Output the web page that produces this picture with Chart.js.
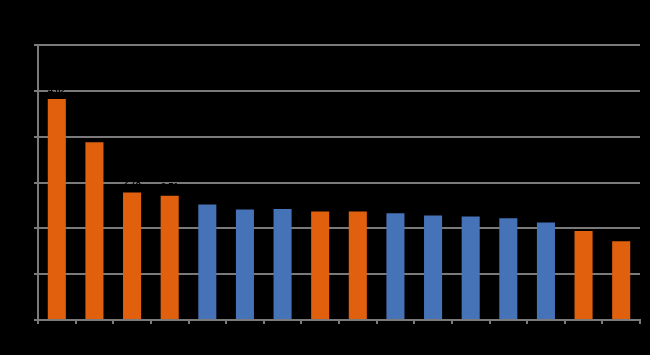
<!DOCTYPE html>
<html>
<head>
<meta charset="utf-8">
<script src="https://cdn.jsdelivr.net/npm/chart.js@4/dist/chart.umd.min.js"></script>
<style>
  html, body { margin: 0; padding: 0; background: #000; }
  #wrap { width: 650px; height: 355px; position: relative; }
</style>
</head>
<body>
<div id="wrap"><canvas id="c"></canvas></div>
<script>
const categories = ['1','2','3','4','5','6','7','8','9','10','11','12','13','14','15','16'];
const values = [4.82, 3.88, 2.78, 2.71, 2.52, 2.41, 2.42, 2.37, 2.37, 2.33, 2.28, 2.26, 2.22, 2.13, 1.94, 1.72];
const groups = ['o','o','o','o','b','b','b','o','o','b','b','b','b','b','o','o'];
const yTicks = [0, 1, 2, 3, 4, 5, 6];

const ORANGE = '#E1600E';
const BLUE = '#4672B8';
const GRID = '#7a7a7a';

const bgPlugin = {
  id: 'bg',
  beforeDraw(chart) {
    const ctx = chart.ctx;
    ctx.save();
    ctx.fillStyle = '#000';
    ctx.fillRect(0, 0, chart.width, chart.height);
    ctx.restore();
  }
};

const labelPlugin = {
  id: 'vlabels',
  afterDatasetsDraw(chart) {
    const ctx = chart.ctx;
    const meta = chart.getDatasetMeta(0);
    ctx.save();
    ctx.font = 'bold 9px "Liberation Sans", Arial, sans-serif';
    ctx.fillStyle = '#000';
    ctx.textAlign = 'center';
    ctx.textBaseline = 'middle';
    meta.data.forEach((bar, i) => {
      ctx.fillText(values[i].toFixed(2), bar.x, bar.y - 9);
    });
    ctx.restore();
  }
};

new Chart(document.getElementById('c'), {
  type: 'bar',
  data: {
    labels: categories,
    datasets: [{
      data: values,
      backgroundColor: groups.map(g => g === 'o' ? ORANGE : BLUE),
      borderWidth: 0,
      categoryPercentage: 1,
      barPercentage: 0.48
    }]
  },
  options: {
    responsive: true,
    maintainAspectRatio: false,
    animation: false,
    devicePixelRatio: 1,
    layout: { padding: { left: 0, top: 45, right: 10, bottom: 0 } },
    plugins: {
      legend: { display: false },
      tooltip: { enabled: false }
    },
    scales: {
      x: {
        grid: { display: true, drawOnChartArea: false, drawTicks: true, tickLength: 4, color: GRID, lineWidth: 2, offset: true },
        border: { display: true, color: GRID, width: 2 },
        ticks: { color: '#000', font: { size: 7 }, maxRotation: 0, autoSkip: false },
        afterFit(scale) { scale.height = 35; }
      },
      y: {
        min: 0,
        max: 6,
        afterBuildTicks(scale) { scale.ticks = yTicks.map(v => ({ value: v })); },
        grid: { color: GRID, lineWidth: 2, tickLength: 4, drawTicks: true },
        border: { display: true, color: GRID, width: 2 },
        ticks: { color: '#000', font: { size: 8 } },
        afterFit(scale) { scale.width = 38; }
      }
    }
  },
  plugins: [bgPlugin, labelPlugin]
});
</script>
</body>
</html>
